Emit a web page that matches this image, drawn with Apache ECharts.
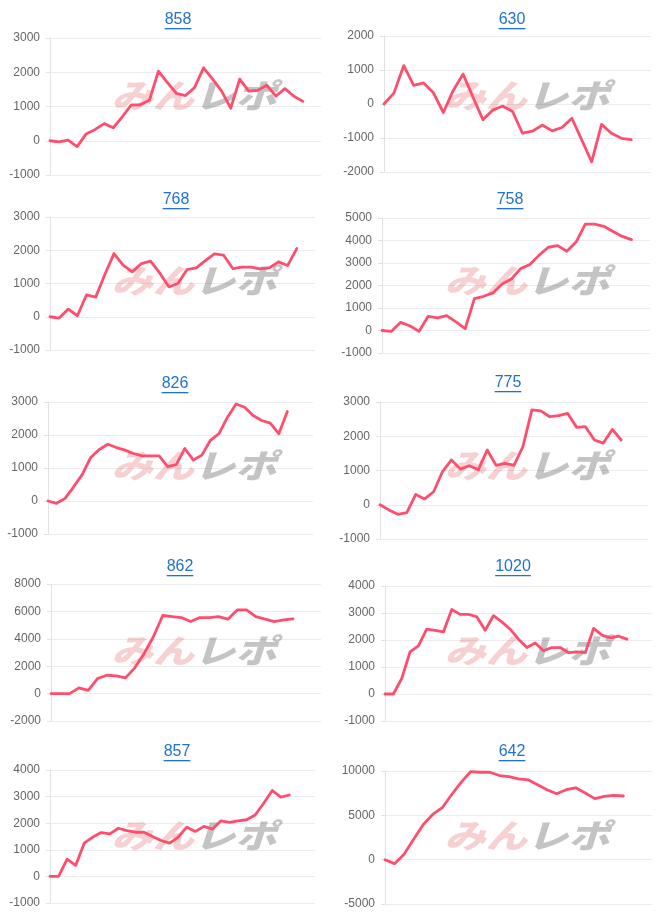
<!DOCTYPE html>
<html>
<head>
<meta charset="utf-8">
<script src="https://cdn.jsdelivr.net/npm/echarts@6/dist/echarts.min.js"></script>
<style>
html,body{margin:0;padding:0;background:#fff;}
#c{width:666px;height:918px;}
</style>
</head>
<body>
<div id="c"></div>
<script>
// ---- data ----
const titles = ['858','630','768','758','826','775','862','1020','857','642'];
const categoryCounts = [31,28,30,30,32,31,30,33,32,29];
const d858 = [0,-30,20,-170,200,330,500,380,700,1050,1050,1180,2030,1700,1380,1320,1550,2130,1800,1450,950,1800,1450,1470,1620,1300,1520,1300,1150];
const d630 = [0,320,1130,550,620,330,-250,400,880,200,-460,-180,-60,-220,-860,-800,-620,-790,-690,-420,-1060,-1700,-600,-860,-1010,-1050];
const d768 = [0,-40,230,30,660,590,1270,1900,1550,1350,1600,1670,1320,900,1000,1420,1470,1690,1890,1850,1450,1490,1490,1440,1470,1650,1540,2050];
const d758 = [0,-40,360,210,-40,630,560,660,380,80,1420,1520,1670,2070,2290,2750,2930,3350,3700,3770,3520,3930,4730,4730,4630,4400,4180,4040];
const d826 = [0,-70,80,430,800,1320,1560,1720,1620,1540,1440,1370,1370,1370,1040,1100,1590,1240,1390,1840,2040,2540,2940,2840,2590,2440,2360,2040,2710];
const d775 = [0,-150,-280,-230,300,170,380,970,1310,1040,1140,1020,1600,1150,1210,1150,1700,2770,2740,2570,2600,2670,2260,2280,1890,1800,2200,1890];
const d862 = [0,0,0,420,240,1100,1340,1300,1150,1880,2930,4150,5700,5620,5550,5260,5550,5550,5620,5430,6110,6110,5620,5430,5260,5380,5450];
const d1020 = [0,0,570,1560,1780,2400,2360,2300,3130,2950,2950,2860,2360,2900,2670,2400,2030,1720,1890,1600,1720,1720,1530,1560,1530,2430,2180,2080,2140,2030];
const d857 = [0,0,650,410,1250,1480,1650,1600,1810,1720,1660,1660,1500,1350,1250,1480,1850,1690,1880,1780,2090,2030,2090,2130,2310,2750,3230,2980,3060];
const d642 = [0,-450,620,2300,3950,5100,5860,7350,8740,9940,9860,9860,9490,9370,9110,9000,8440,7890,7430,7890,8110,7510,6880,7140,7250,7180];
const seriesData = [d858,d630,d768,d758,d826,d775,d862,d1020,d857,d642];
const yMin = [-1000,-2000,-1000,-1000,-1000,-1000,-2000,-1000,-1000,-5000];
const yMax = [3000,2000,3000,5000,3000,3000,8000,4000,4000,10000];
const yStep = [1000,1000,1000,1000,1000,1000,2000,1000,1000,5000];

// ---- layout ----
const gridLeft  = [50,384,50,382,48,380,51,385,50,385];
const gridRight = [321,651,315,650,313,648,321,652,315,652];
const gridTop   = [38,36,217,218,402,402,584,586,770,771];
const gridBot   = [175,172,350,353,534,539,721,721,903,904];
const titleX    = [178,512,176,510,175,508,180,513,177,512];
const titleY    = [20,20,200,200,384,383,567,567,752,752];
const panelTop  = [0,0,185,185,370,370,555,555,740,740];
const panelLeft = [0,333,0,333,0,333,0,333,0,333];

const FONT = '"Liberation Sans", Arial, Helvetica, sans-serif';
const LINE_COLOR = '#ff4d6d';
const TITLE_COLOR = '#1f70d8';

const mctx = document.createElement('canvas').getContext('2d');
mctx.font = '16px "Liberation Sans"';

const grid = [], xAxis = [], yAxis = [], series = [], graphic = [];
for (let i = 0; i < titles.length; i++) {
  grid.push({left: gridLeft[i], top: gridTop[i], width: gridRight[i]-gridLeft[i], height: gridBot[i]-gridTop[i], containLabel:false});
  const cats = [];
  for (let k = 1; k <= categoryCounts[i]; k++) cats.push(String(k));
  xAxis.push({type:'category', gridIndex:i, data:cats, boundaryGap:false, show:false});
  yAxis.push({
    type:'value', gridIndex:i, min:yMin[i], max:yMax[i], interval:yStep[i],
    axisLine:{show:true, lineStyle:{color:'#e2e2e2', width:1}},
    axisTick:{show:true, length:4, lineStyle:{color:'#e2e2e2'}},
    splitLine:{show:true, lineStyle:{color:'#ececec', width:1}},
    axisLabel:{color:'#666', fontSize:12, fontFamily:FONT, margin:10, formatter: v => String(v)}
  });
  series.push({
    type:'line', xAxisIndex:i, yAxisIndex:i, data:seriesData[i],
    showSymbol:false, symbol:'none', smooth:false, z:5,
    lineStyle:{color:LINE_COLOR, width:2.8, cap:'round', join:'round'},
    animation:false
  });
  // watermark
  graphic.push({
    type:'text', silent:true, z:1,
    x: panelLeft[i] + 194, y: panelTop[i] + 95, scaleX:1.25, scaleY:1,
    style:{
      text:'{a|みん}{b|レポ}',
      align:'center', verticalAlign:'middle',
      rich:{
        a:{fontSize:33, fontWeight:900, fontStyle:'italic', fontFamily:'"Noto Sans CJK JP"', fill:'rgba(225,90,90,0.28)', color:'rgba(225,90,90,0.28)'},
        b:{fontSize:33, fontWeight:900, fontStyle:'italic', fontFamily:'"Noto Sans CJK JP"', fill:'rgba(100,100,100,0.38)', color:'rgba(100,100,100,0.38)'}
      }
    }
  });
  // title
  const w = mctx.measureText(titles[i]).width;
  graphic.push({
    type:'text', z:10, x:titleX[i], y:titleY[i],
    style:{text:titles[i], font:'16px ' + FONT, fill:TITLE_COLOR, align:'center', verticalAlign:'middle'}
  });
  graphic.push({
    type:'rect', z:10, silent:true,
    shape:{x:titleX[i]-w/2, y:titleY[i]+8, width:w, height:1.3},
    style:{fill:TITLE_COLOR}
  });
}

const chart = echarts.init(document.getElementById('c'), null, {renderer:'canvas'});
chart.setOption({
  animation:false,
  backgroundColor:'#ffffff',
  grid, xAxis, yAxis, series, graphic
});
</script>
</body>
</html>
